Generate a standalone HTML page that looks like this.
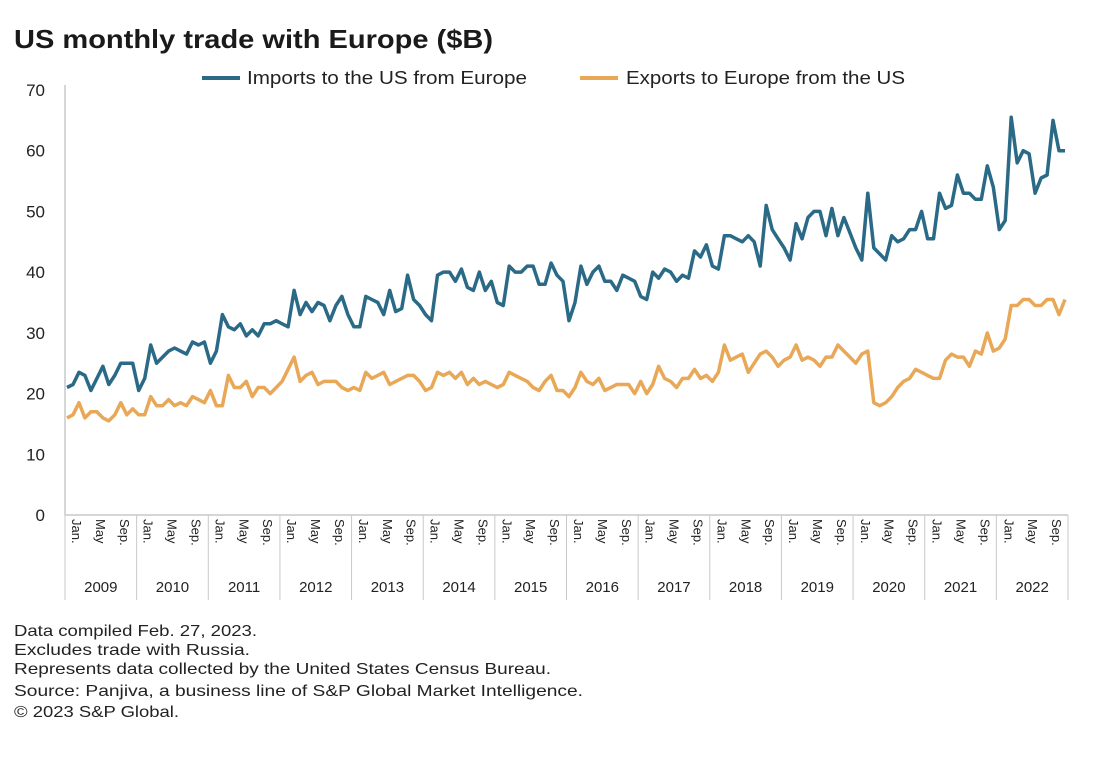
<!DOCTYPE html>
<html><head><meta charset="utf-8"><style>
body{margin:0;background:#fff;font-family:"Liberation Sans",sans-serif;}
</style></head><body>
<svg width="1110" height="752" xmlns="http://www.w3.org/2000/svg" style="font-family:'Liberation Sans',sans-serif">
<text x="14" y="48" font-size="26" font-weight="bold" fill="#1a1a1a" textLength="479" lengthAdjust="spacingAndGlyphs">US monthly trade with Europe ($B)</text>
<g>
<line x1="202" y1="78" x2="240" y2="78" stroke="#2a6a86" stroke-width="4"/>
<text x="247" y="84" font-size="18" fill="#222" textLength="280" lengthAdjust="spacingAndGlyphs">Imports to the US from Europe</text>
<line x1="580" y1="78" x2="618" y2="78" stroke="#e8a857" stroke-width="4"/>
<text x="626" y="84" font-size="18" fill="#222" textLength="279" lengthAdjust="spacingAndGlyphs">Exports to Europe from the US</text>
</g>
<g id="axes"></g>
<g id="series"></g>
<g font-size="16" fill="#222">
<text x="14" y="636" textLength="243" lengthAdjust="spacingAndGlyphs">Data compiled Feb. 27, 2023.</text>
<text x="14" y="655" textLength="236" lengthAdjust="spacingAndGlyphs">Excludes trade with Russia.</text>
<text x="14" y="674" textLength="537" lengthAdjust="spacingAndGlyphs">Represents data collected by the United States Census Bureau.</text>
<text x="14" y="696" textLength="569" lengthAdjust="spacingAndGlyphs">Source: Panjiva, a business line of S&amp;P Global Market Intelligence.</text>
<text x="14" y="717" textLength="165" lengthAdjust="spacingAndGlyphs">© 2023 S&amp;P Global.</text>
</g>
</svg>
<script>
const years=[2009,2010,2011,2012,2013,2014,2015,2016,2017,2018,2019,2020,2021,2022];
const yTicks=[0,10,20,30,40,50,60,70];
const monthLabels=["Jan.","May","Sep."];
const imports=[
21,21.5,23.5,23,20.5,22.5,24.5,21.5,23,25,25,25,
20.5,22.5,28,25,26,27,27.5,27,26.5,28.5,28,28.5,
25,27,33,31,30.5,31.5,29.5,30.5,29.5,31.5,31.5,32,
31.5,31,37,33,35,33.5,35,34.5,32,34.5,36,33,
31,31,36,35.5,35,33,37,33.5,34,39.5,35.5,34.5,
33,32,39.5,40,40,38.5,40.5,37.5,37,40,37,38.5,
35,34.5,41,40,40,41,41,38,38,41.5,39.5,38.5,
32,35,41,38,40,41,38.5,38.5,37,39.5,39,38.5,
36,35.5,40,39,40.5,40,38.5,39.5,39,43.5,42.5,44.5,
41,40.5,46,46,45.5,45,46,45,41,51,47,45.5,
44,42,48,45.5,49,50,50,46,50.5,46,49,46.5,
44,42,53,44,43,42,46,45,45.5,47,47,50,
45.5,45.5,53,50.5,51,56,53,53,52,52,57.5,54,
47,48.5,65.5,58,60,59.5,53,55.5,56,65,60,60];
const exportsUS=[
16,16.5,18.5,16,17,17,16,15.5,16.5,18.5,16.5,17.5,
16.5,16.5,19.5,18,18,19,18,18.5,18,19.5,19,18.5,
20.5,18,18,23,21,21,22,19.5,21,21,20,21,
22,24,26,22,23,23.5,21.5,22,22,22,21,20.5,
21,20.5,23.5,22.5,23,23.5,21.5,22,22.5,23,23,22,
20.5,21,23.5,23,23.5,22.5,23.5,21.5,22.5,21.5,22,21.5,
21,21.5,23.5,23,22.5,22,21,20.5,22,23,20.5,20.5,
19.5,21,23.5,22,21.5,22.5,20.5,21,21.5,21.5,21.5,20,
22,20,21.5,24.5,22.5,22,21,22.5,22.5,24,22.5,23,
22,23.5,28,25.5,26,26.5,23.5,25,26.5,27,26,24.5,
25.5,26,28,25.5,26,25.5,24.5,26,26,28,27,26,
25,26.5,27,18.5,18,18.5,19.5,21,22,22.5,24,23.5,
23,22.5,22.5,25.5,26.5,26,26,24.5,27,26.5,30,27,
27.5,29,34.5,34.5,35.5,35.5,34.5,34.5,35.5,35.5,33,35.5];

const NS="http://www.w3.org/2000/svg";
const L=65,R=1068,T=90,B=515;
const n=years.length*12;
const yScale=v=>B-(v/70)*(B-T);
const xScale=i=>L+2+i*(R-L-5)/(n-1);
const yearW=(R-L)/years.length;
function mk(tag,attrs,parent){const e=document.createElementNS(NS,tag);for(const k in attrs)e.setAttribute(k,attrs[k]);parent.appendChild(e);return e;}
const ax=document.getElementById('axes');
let yl=mk('line',{x1:L,y1:T-5,x2:L,y2:B,stroke:'#c8c8c8','stroke-width':1.5},ax);


let xl=mk('line',{x1:L,y1:B,x2:R,y2:B,stroke:'#c8c8c8','stroke-width':1.5},ax);


yTicks.forEach(t=>{
 const e=mk('text',{x:45,y:yScale(t)+6,'text-anchor':'end','font-size':17,fill:'#222'},ax);
 e.textContent=t;
 
 
});
years.forEach((yr,k)=>{
 const x0=L+k*yearW;
 const s=mk('line',{x1:x0,y1:B,x2:x0,y2:600,stroke:'#c8c8c8','stroke-width':1},ax);
 
 
 monthLabels.forEach((m,j)=>{
  const xi=xScale(k*12+j*4);
  const e=mk('text',{x:0,y:0,transform:`translate(${xi+5},${B+4}) rotate(90)`,'font-size':13,fill:'#222'},ax);
  e.textContent=m;
  
  
 });
 const e=mk('text',{x:x0+yearW/2,y:592,'text-anchor':'middle','font-size':15,fill:'#222'},ax);
 e.textContent=yr;
 
 
});
const s2=mk('line',{x1:R,y1:B,x2:R,y2:600,stroke:'#c8c8c8','stroke-width':1},ax);


const sg=document.getElementById('series');
function line(data,color,name){
 const d=data.map((v,i)=>(i?'L':'M')+xScale(i).toFixed(1)+','+yScale(v).toFixed(1)).join(' ');
 const p=mk('path',{d:d,fill:'none',stroke:color,'stroke-width':3.5,'stroke-linejoin':'round'},sg);
 
 
}
line(exportsUS,'#e8a857','exports-line');
line(imports,'#2a6a86','imports-line');
</script>
</body></html>
